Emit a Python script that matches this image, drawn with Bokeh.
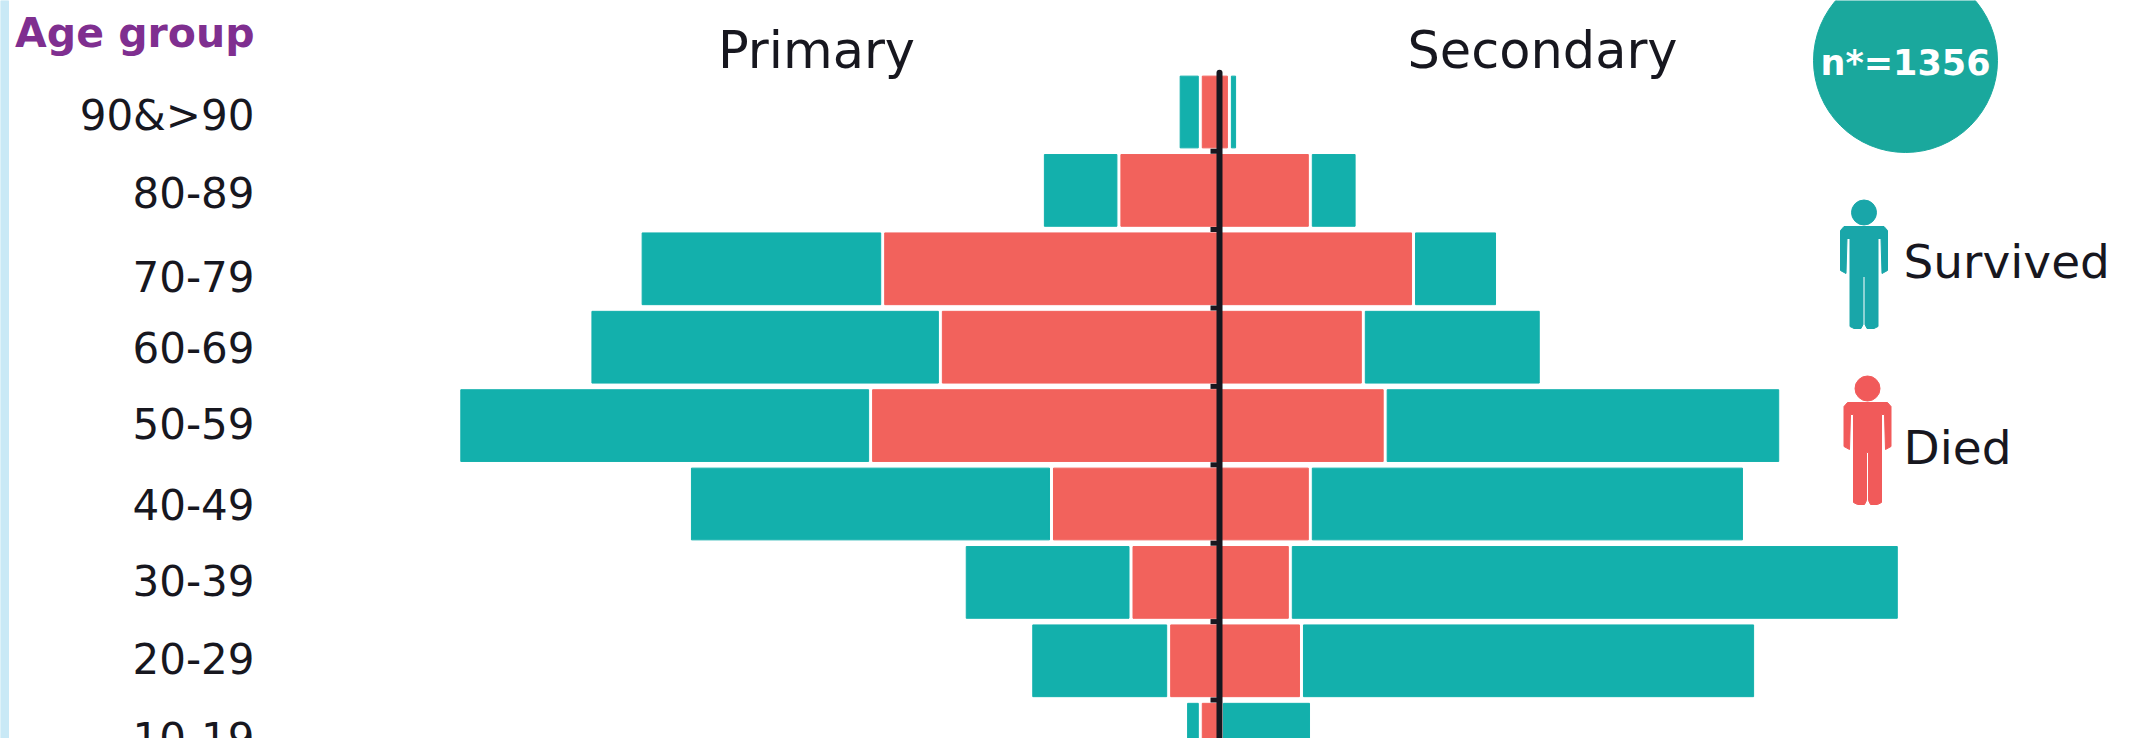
from bokeh.plotting import figure
from bokeh.models import Range1d, ColumnDataSource
from bokeh.core.properties import value
from bokeh.embed import file_html
from bokeh.resources import INLINE

# Patients per age band, split by type of infection and outcome
age_groups = ["90&>90", "80-89", "70-79", "60-69", "50-59", "40-49", "30-39", "20-29", "10-19"]
primary_died = [3.7, 21.2, 72.0, 59.6, 74.6, 35.7, 18.6, 10.5, 3.7]
primary_survived = [3.9, 15.6, 51.3, 74.5, 87.7, 77.0, 35.0, 28.8, 2.3]
secondary_died = [1.7, 19.1, 41.3, 30.5, 35.2, 19.1, 14.8, 17.2, 0.0]
secondary_survived = [0.9, 9.2, 17.2, 37.4, 84.2, 92.5, 130.1, 96.8, 18.5]

# Canvas and scale
W, H = 2131, 738
PX_PER_PATIENT = 4.65
AXIS_PX = 1219
ROW_TOP_PX, ROW_STEP_PX = 111.5, 78.4
GAP = 4 / PX_PER_PATIENT
BAR_HEIGHT = 0.915

TEAL = "#13b0ac"
RED = "#f2625c"
INK = "#17171f"
FONT = value("DejaVu Sans")

p = figure(
    width=W, height=H, output_backend="svg", toolbar_location=None,
    x_axis_type=None, y_axis_type=None, min_border=0,
    x_range=Range1d(-AXIS_PX / PX_PER_PATIENT, (W - AXIS_PX) / PX_PER_PATIENT),
    y_range=Range1d((H - ROW_TOP_PX) / ROW_STEP_PX, -ROW_TOP_PX / ROW_STEP_PX),
)
p.outline_line_color = None
p.background_fill_color = "white"
p.border_fill_color = "white"
p.extra_x_ranges["px"] = Range1d(0, W)
p.extra_y_ranges["px"] = Range1d(H, 0)

rows = list(range(len(age_groups)))

# Stacked bars growing out from the central axis, primary to the left
src = ColumnDataSource(dict(
    y=rows,
    pd_l=[-v for v in primary_died],
    ps_r=[-(v + GAP) for v in primary_died],
    ps_l=[-(v + GAP + s) for v, s in zip(primary_died, primary_survived)],
    sd_r=secondary_died,
    ss_l=[v + GAP for v in secondary_died],
    ss_r=[v + GAP + s for v, s in zip(secondary_died, secondary_survived)],
    zero=[0] * len(rows),
))
p.hbar(y="y", left="ps_l", right="ps_r", height=BAR_HEIGHT, color=TEAL, source=src)
p.hbar(y="y", left="pd_l", right="zero", height=BAR_HEIGHT, color=RED, source=src)
p.hbar(y="y", left="zero", right="sd_r", height=BAR_HEIGHT, color=RED, source=src)
p.hbar(y="y", left="ss_l", right="ss_r", height=BAR_HEIGHT, color=TEAL, source=src)

# Central axis with ticks on the band boundaries
p.segment(x0=[0], x1=[0], y0=[-0.5], y1=[len(rows)], line_color=INK, line_width=6, line_cap="round")
tick_y = [i + 0.5 for i in rows[:-1]]
p.segment(x0=[-9 / PX_PER_PATIENT] * len(tick_y), x1=[0] * len(tick_y), y0=tick_y, y1=tick_y,
          line_color=INK, line_width=5)

# Age labels, right aligned
label_nudge = [3, 2, 8, 0, -2, 0, -2, -2, -2]
p.text(x=[254] * len(rows), y=[ROW_TOP_PX + ROW_STEP_PX * i for i in rows], text=age_groups,
       x_range_name="px", y_range_name="px", y_offset=label_nudge,
       text_align="right", text_baseline="middle", text_font=FONT, text_font_size="42px",
       text_color=INK)


def caption(x, y, s, size, color=INK, align="left", style="normal"):
    p.text(x=[x], y=[y], text=[s], x_range_name="px", y_range_name="px",
           text_align=align, text_baseline="middle", text_font=FONT, text_font_size=size,
           text_color=color, text_font_style=style)


caption(254, 32, "Age group", "41px", color="#7f2f90", align="right", style="bold")
caption(816, 50, "Primary", "51px", align="center")
caption(1542, 50, "Secondary", "51px", align="center")

# Left page stripe
p.quad(left=[0], right=[8], top=[0], bottom=[H], x_range_name="px", y_range_name="px",
       color="#c9e9f6")

# Sample size badge
p.circle(x=[1905], y=[60], radius=92, x_range_name="px", y_range_name="px", color="#1aa89d")
caption(1905, 62, "n*=1356", "35px", color="white", align="center", style="bold")

# Pictogram legend
FIGURE_DX = [-20, 20, 23.5, 23.5, 18, 17, 14, 14, 10, 3, 1, 1, -1, -1, -3, -10, -14, -14, -17, -18, -23.5, -23.5]
FIGURE_DY = [0, 0, 4, 44, 47, 12, 12, 100, 102, 102, 98, 50, 50, 98, 102, 102, 100, 12, 12, 47, 44, 4]


def person(cx, head_y, color):
    top = head_y + 14
    p.circle(x=[cx], y=[head_y], radius=12.5, x_range_name="px", y_range_name="px", color=color)
    p.patch(x=[cx + d for d in FIGURE_DX], y=[top + d for d in FIGURE_DY],
            x_range_name="px", y_range_name="px", color=color)


person(1863.5, 212, "#19a6a9")
person(1867, 388, "#f15a5a")
caption(1903, 261, "Survived", "47px")
caption(1903, 447, "Died", "47px")

open("out.html", "w").write(file_html(p, INLINE))
